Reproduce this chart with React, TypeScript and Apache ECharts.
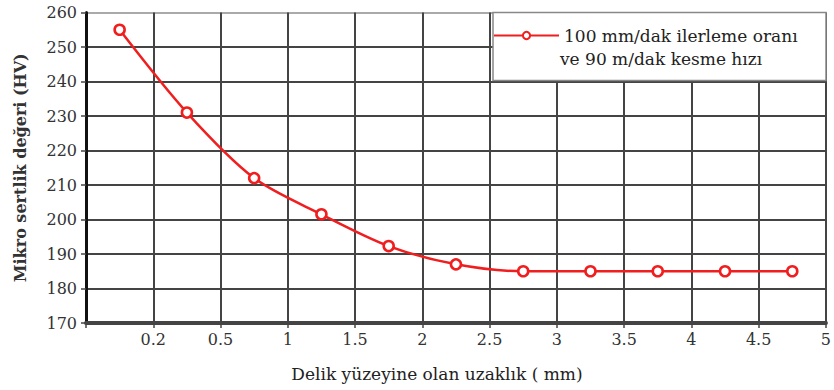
import React, { useEffect, useRef } from "react";
import * as echarts from "echarts";

// Tick labels at the category boundaries (index 0..11)
const xTickLabels = ["", "0.2", "0.5", "1", "1.5", "2", "2.5", "3", "3.5", "4", "4.5", "5"];
// Measurement positions (centre of each interval)
const xPositions = [0.5, 1.5, 2.5, 3.5, 4.5, 5.5, 6.5, 7.5, 8.5, 9.5, 10.5];
const hardness = [255, 231, 212, 201.5, 192.3, 187, 185, 185, 185, 185, 185];
const seriesLine1 = "100 mm/dak ilerleme oranı";
const seriesLine2 = "ve 90 m/dak kesme hızı";
const yTitle = "Mikro sertlik değeri (HV)";
const xTitle = "Delik yüzeyine olan uzaklık ( mm)";

const FONT = "DejaVu Serif";
const RED = "#f01e1e";

export default function App() {
  const ref = useRef<HTMLDivElement>(null);
  useEffect(() => {
    if (!ref.current) return;
    const chart = echarts.init(ref.current, undefined, { renderer: "svg" });
    const ySplitColors = ["#444", "#444", "#444", "#444", "#444", "#444", "#444", "#444", "#444", "#aaa"];
    chart.setOption({
      animation: false,
      backgroundColor: "#fff",
      grid: { left: 86, right: 8, top: 12.5, bottom: 67, containLabel: false },
      xAxis: {
        type: "value",
        min: 0,
        max: 11,
        interval: 1,
        name: xTitle,
        nameLocation: "middle",
        nameGap: 42,
        nameTextStyle: { fontFamily: FONT, fontSize: 17, color: "#222", padding: [0, 38, 0, 0] },
        axisLine: { show: true, lineStyle: { color: "#444", width: 4 } },
        axisTick: { show: true, inside: false, length: 5, lineStyle: { color: "#444", width: 1.5 } },
        axisLabel: {
          margin: 8,
          fontFamily: FONT,
          fontSize: 16,
          color: "#333",
          formatter: (v: number) => xTickLabels[Math.round(v)] ?? "",
        },
        splitLine: { show: true, lineStyle: { color: "#444", width: 2 } },
      },
      yAxis: {
        type: "value",
        min: 170,
        max: 260,
        interval: 10,
        name: yTitle,
        nameLocation: "middle",
        nameRotate: 90,
        nameGap: 58,
        nameTextStyle: { fontFamily: FONT, fontSize: 16, fontWeight: "bold", color: "#333" },
        axisLine: { show: true, lineStyle: { color: "#111", width: 3 } },
        axisTick: { show: true, inside: false, length: 5, lineStyle: { color: "#444", width: 1.5 } },
        axisLabel: { margin: 9, fontFamily: FONT, fontSize: 16, color: "#333" },
        splitLine: { show: true, lineStyle: { color: ySplitColors, width: 2 } },
      },
      legend: {
        show: true,
        left: 493,
        top: 27,
        padding: 0,
        itemWidth: 65,
        itemHeight: 9,
        z: 20,
        formatter: () => seriesLine1,
        textStyle: { fontFamily: FONT, fontSize: 17, color: "#222" },
        data: [seriesLine1 + "\n" + seriesLine2],
      },
      graphic: [
        {
          type: "rect",
          z: 10,
          shape: { x: 493, y: 12.5, width: 333, height: 68 },
          style: { fill: "#fff", stroke: "#888", lineWidth: 1.5 },
        },
        {
          type: "text",
          z: 21,
          x: 560,
          y: 59,
          style: {
            text: seriesLine2,
            fontFamily: FONT,
            fontSize: 17,
            fill: "#222",
            textAlign: "left",
            textVerticalAlign: "middle",
          },
        },
      ],
      series: [
        {
          name: seriesLine1 + "\n" + seriesLine2,
          type: "line",
          smooth: 0.3,
          data: xPositions.map((x, i) => [x, hardness[i]]),
          symbol: "circle",
          symbolSize: 10,
          lineStyle: { color: RED, width: 2.5 },
          itemStyle: { color: "#fff", borderColor: RED, borderWidth: 2.6 },
          z: 3,
        },
      ],
    });
    return () => chart.dispose();
  }, []);
  return <div ref={ref} style={{ width: 834, height: 390, position: "absolute", left: 0, top: 0 }} />;
}
